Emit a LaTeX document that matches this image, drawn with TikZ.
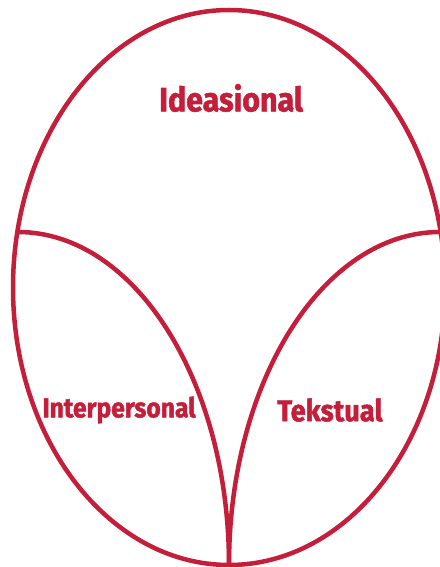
\documentclass[tikz,border=0pt]{standalone}
\usepackage{fontspec}
\newfontfamily\petalfont{Fira Sans}[FakeStretch=0.9, FakeBold=1.6]
\definecolor{petal}{RGB}{196, 30, 58}
\usetikzlibrary{positioning}

\begin{document}
\begin{tikzpicture}[x=0.025cm, y=0.025cm]
                \tikzset{rim/.style={draw=petal, line width=3.2pt},
                         label/.style={text=petal, font=\petalfont\bfseries}}
                \useasboundingbox (0,0) rectangle (440,567);

                % outer oval
                \draw[rim] (229,279.5) ellipse [x radius=216, y radius=277.5];

                % two inner arcs meeting at the bottom
                \draw[rim] (18,335) arc [start angle=90, end angle=0, x radius=211, y radius=333];
                \draw[rim] (440,335) arc [start angle=90, end angle=180, x radius=211, y radius=333];
                \draw[rim] (229,0) -- (229,40);

                \node[label, font=\petalfont\bfseries\fontsize{24}{28}\selectfont] (ideasional) at (231,469) {Ideasional};
                \node[label, font=\petalfont\bfseries\fontsize{19.5}{23}\selectfont] (interpersonal) at (119,157) {Interpersonal};
                \node[label, font=\petalfont\bfseries\fontsize{21.5}{25}\selectfont] (tekstual) at (330,157) {Tekstual};
            \end{tikzpicture}
\end{document}
